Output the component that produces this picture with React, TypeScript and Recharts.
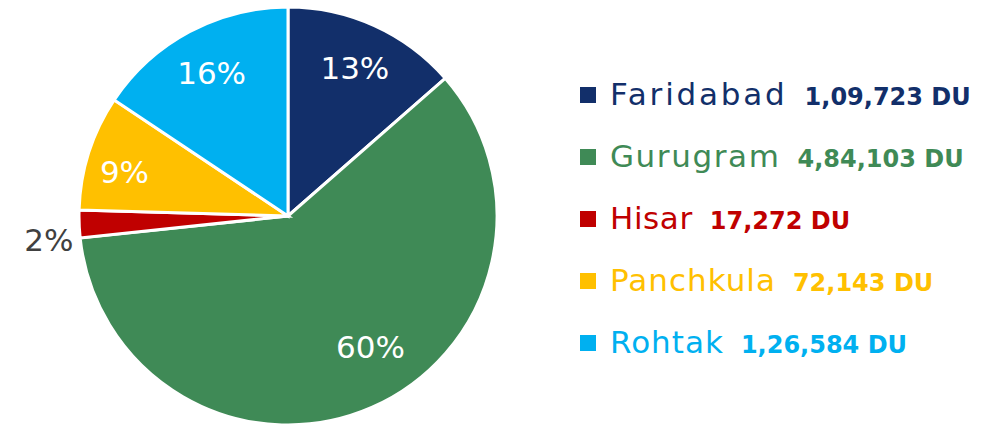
import React from 'react';
import { PieChart, Pie, Cell, Legend } from 'recharts';

const districts = ['Faridabad', 'Gurugram', 'Hisar', 'Panchkula', 'Rohtak'];
const dwellingUnits = [109723, 484103, 17272, 72143, 126584];
const percentLabels = ['13%', '60%', '2%', '9%', '16%'];
const sliceColors = ['#122F6A', '#3F8A56', '#C00000', '#FFC000', '#00B0F0'];
const unitLabel = 'DU';

const data = districts.map((name, i) => ({ name, value: dwellingUnits[i], pct: percentLabels[i] }));

// label placement tweaks (style only)
const labelRadius = [0.775, 0.74, 1.15, 0.81, 0.775];
const labelAngleShift = [0, 8.6, 3.5, 2.7, 0];
const RAD = Math.PI / 180;

function indianFormat(n: number): string {
  const s = String(Math.round(n));
  if (s.length <= 3) return s;
  const last3 = s.slice(-3);
  let rest = s.slice(0, -3);
  const parts: string[] = [];
  while (rest.length > 2) {
    parts.unshift(rest.slice(-2));
    rest = rest.slice(0, -2);
  }
  if (rest.length) parts.unshift(rest);
  return parts.join(',') + ',' + last3;
}

const renderLabel = (props: any) => {
  const { cx, cy, midAngle, outerRadius, index } = props;
  const r = outerRadius * labelRadius[index];
  const a = midAngle + labelAngleShift[index];
  const x = cx + r * Math.cos(-a * RAD);
  const y = cy + r * Math.sin(-a * RAD);
  const outside = labelRadius[index] > 1;
  return (
    <text
      x={x}
      y={y}
      textAnchor="middle"
      dominantBaseline="central"
      fill={outside ? '#404040' : '#FFFFFF'}
      fontFamily="DejaVu Sans"
      fontSize={31}
    >
      {data[index].pct}
    </text>
  );
};

const nameSpacing = [2.8, 1.6, 0.6, 1.0, 1.0];

const renderLegend = (props: any) => {
  const payload = props.payload || [];
  return (
    <svg width={420} height={320}>
      {payload.map((item: any, i: number) => {
        const baseline = 45 + i * 62;
        const val =
          item?.payload?.value ?? item?.payload?.payload?.value ?? dwellingUnits[i];
        return (
          <g key={i}>
            <rect x={10} y={baseline - 18} width={16} height={16} fill={item.color} />
            <text
              x={40}
              y={baseline}
              fill={item.color}
              fontFamily="DejaVu Sans"
              fontSize={31}
              letterSpacing={nameSpacing[i] ?? 1.2}
            >
              {item.value}
              <tspan dx={17} fontWeight="bold" fontSize={24} letterSpacing={0}>
                {`${indianFormat(val)} ${unitLabel}`}
              </tspan>
            </text>
          </g>
        );
      })}
    </svg>
  );
};

export default function App() {
  return (
    <div style={{ position: 'absolute', left: 0, top: 0, width: 1000, height: 425, background: '#fff' }}>
      <PieChart width={1000} height={425} margin={{ top: 0, right: 0, bottom: 0, left: 0 }}>
        <Pie
          data={data}
          dataKey="value"
          nameKey="name"
          cx={288}
          cy={216}
          outerRadius={209}
          startAngle={90}
          endAngle={-270}
          stroke="#FFFFFF"
          strokeWidth={3}
          label={renderLabel}
          labelLine={false}
          isAnimationActive={false}
        >
          {data.map((d, i) => (
            <Cell key={d.name} fill={sliceColors[i]} />
          ))}
        </Pie>
        <Legend
          content={renderLegend}
          layout="vertical"
          wrapperStyle={{ position: 'absolute', left: 570, top: 60, width: 420, height: 320 }}
        />
      </PieChart>
    </div>
  );
}
